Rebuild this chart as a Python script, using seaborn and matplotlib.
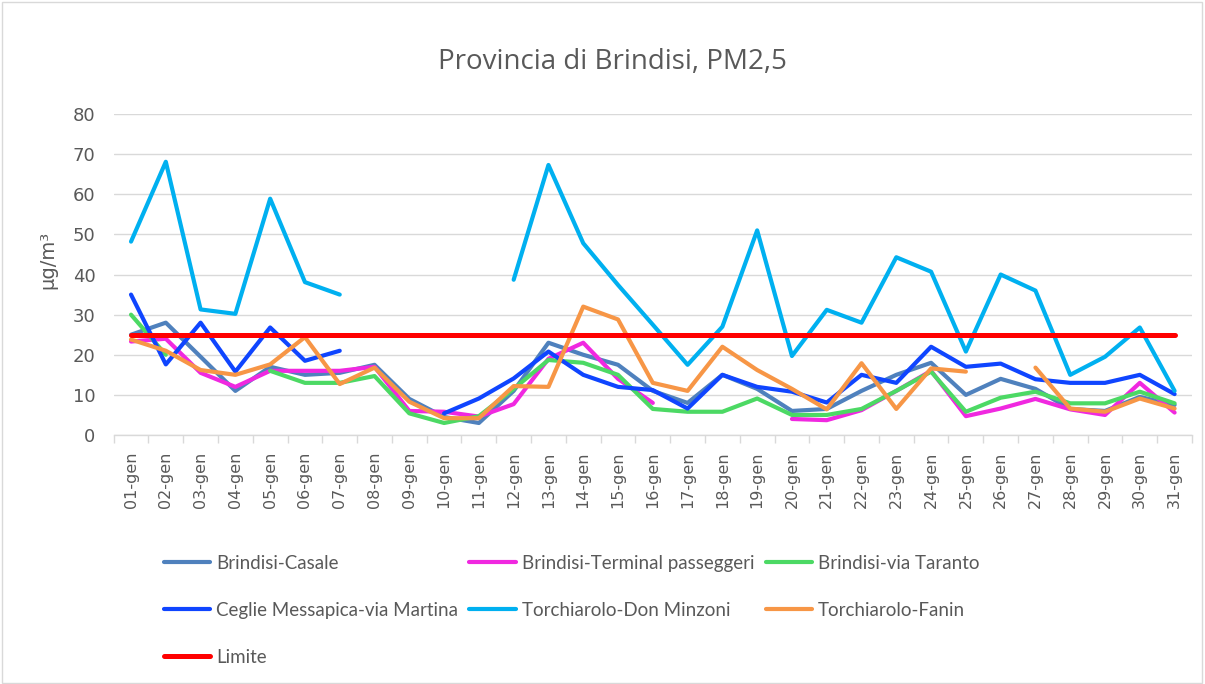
import numpy as np
import pandas as pd
import matplotlib.pyplot as plt
import seaborn as sns
from matplotlib.lines import Line2D
from matplotlib.patches import Rectangle

nan = np.nan

# giorni di gennaio
giorni = ["01-gen", "02-gen", "03-gen", "04-gen", "05-gen", "06-gen", "07-gen",
          "08-gen", "09-gen", "10-gen", "11-gen", "12-gen", "13-gen", "14-gen",
          "15-gen", "16-gen", "17-gen", "18-gen", "19-gen", "20-gen", "21-gen",
          "22-gen", "23-gen", "24-gen", "25-gen", "26-gen", "27-gen", "28-gen",
          "29-gen", "30-gen", "31-gen"]

casale = [25, 28, 19.5, 11, 17, 15, 15.5, 17.5, 9, 4.5, 3, 11, 23, 20, 17.5, 11,
          8, 15, 11.5, 6, 6.5, 11, 15, 18, 10, 14, 11.5, 6.5, 6, 9.5, 7.5]
terminal = [23.3, 24, 15.5, 12, 16, 16, 16, 17, 6, 5.8, 4.6, 7.7, 19, 23, 14, 8,
            nan, nan, nan, 4, 3.7, 6.2, 11, 16, 4.7, 6.6, 9, 6.4, 5, 13, 5.6]
via_taranto = [30, 20, nan, nan, 16, 13, 13, 14.7, 5.4, 3, 4.7, 11.5, 18.7, 18, 15, 6.5,
               5.8, 5.8, 9.1, 5, 5, 6.5, 11, 15.8, 5.8, 9.3, 10.8, 7.9, 7.9, 10.8, 7.9]
ceglie = [35, 17.6, 28, 15.8, 26.8, 18.5, 21, nan, nan, 5.4, 9.1, 14.1, 20.8, 15, 12, 11.2,
          6.6, 15, 12, 10.8, 8.1, 15, 13, 22, 17, 17.8, 13.9, 13, 13, 15, 10.2]
don_minzoni = [48.2, 68.1, 31.3, 30.2, 58.9, 38.1, 35, nan, nan, nan, nan, 38.7, 67.3, 47.8,
               37.4, 27.5, 17.5, 27, 51, 19.7, 31.2, 28, 44.3, 40.7, 20.8, 40, 36, 15,
               19.5, 26.8, 11]
fanin = [23.8, 21, 16.2, 15, 17.6, 24.4, 12.7, 16.8, 8.3, 4.2, 4.2, 12.2, 12, 32, 28.8, 13,
         11, 22, 16.2, 11.5, 6.4, 17.9, 6.5, 16.6, 15.8, nan, 16.8, 6.6, 5.8, 9.1, 6.6]
limite = [25, 25, 25, 25, 25, 25, 25, 25, 25, 25, 25, 25, 25, 25, 25, 25,
          25, 25, 25, 25, 25, 25, 25, 25, 25, 25, 25, 25, 25, 25, 25]

serie = [
    ("Brindisi-Casale", casale, "#4F81BD", 3.0),
    ("Brindisi-Terminal passeggeri", terminal, "#F028E0", 3.0),
    ("Brindisi-via Taranto", via_taranto, "#4CD964", 3.0),
    ("Ceglie Messapica-via Martina", ceglie, "#0F45FF", 3.0),
    ("Torchiarolo-Don Minzoni", don_minzoni, "#00B0F0", 3.0),
    ("Torchiarolo-Fanin", fanin, "#F79646", 3.0),
    ("Limite", limite, "#FF0000", 3.6),
]

sns.set_theme(style="white")
plt.rcParams['font.family'] = ['DejaVu Sans']
grigio = "#595959"
griglia = "#D9D9D9"

fig, ax = plt.subplots(figsize=(12.05, 6.84), dpi=100)
fig.subplots_adjust(left=0.0943, right=0.9892, bottom=0.364, top=0.8333)

handles = {}
for nome, valori, col, lw in serie:
    d = pd.DataFrame({"pos": np.arange(len(giorni)), "val": valori})
    d["seg"] = d["val"].isna().cumsum()   # i buchi spezzano la linea
    d = d.dropna()
    sns.lineplot(data=d, x="pos", y="val", units="seg", estimator=None,
                 color=col, lw=lw, ax=ax, legend=False)
    handles[nome] = Line2D([], [], color=col, lw=lw)

ax.set_xlim(-0.5, 30.5)
ax.set_ylim(0, 80)
ax.set_yticks(range(0, 81, 10))
ax.yaxis.grid(True, color=griglia, lw=1)
ax.set_axisbelow(True)

ax.set_xticks(range(len(giorni)))
ax.set_xticklabels(giorni, rotation=90)
ax.set_xticks(np.arange(-0.5, 31, 1), minor=True)
ax.tick_params(axis="x", which="major", length=0, pad=12, labelsize=11.5, labelcolor=grigio)
ax.tick_params(axis="x", which="minor", bottom=True, length=6, width=1, color=griglia, direction="out")
ax.tick_params(axis="y", length=0, pad=13, labelsize=13, labelcolor=grigio)

sns.despine(ax=ax, left=True)
ax.spines["bottom"].set_color(griglia)
ax.spines["bottom"].set_linewidth(1)

ax.set_xlabel("")
ax.set_ylabel("μg/m³", fontsize=14, color=grigio)
ax.yaxis.set_label_coords(-0.0525, 0.545)

fig.text(0.508, 0.909, "Provincia di Brindisi, PM2,5", ha="center", va="center",
         fontsize=20, color=grigio, family=["Open Sans", "DejaVu Sans"])

# legenda: matplotlib riempie per colonne, quindi riordino
ordine = ["Brindisi-Casale", "Ceglie Messapica-via Martina", "Limite",
          "Brindisi-Terminal passeggeri", "Torchiarolo-Don Minzoni",
          "Brindisi-via Taranto", "Torchiarolo-Fanin"]
fig.legend([handles[n] for n in ordine], ordine, ncol=3, loc="upper left",
           bbox_to_anchor=(0.128, 0.203), frameon=False, borderpad=0,
           handlelength=2.5, handletextpad=0.3, columnspacing=0.6, labelspacing=1.6,
           prop={"family": ["Lato", "DejaVu Sans"], "size": 13.5},
           labelcolor=grigio)

fig.patches.append(Rectangle((0.0015, 0.002), 0.996, 0.995, transform=fig.transFigure,
                             fill=False, ec=griglia, lw=1))

fig.savefig("out.png", dpi=100)
